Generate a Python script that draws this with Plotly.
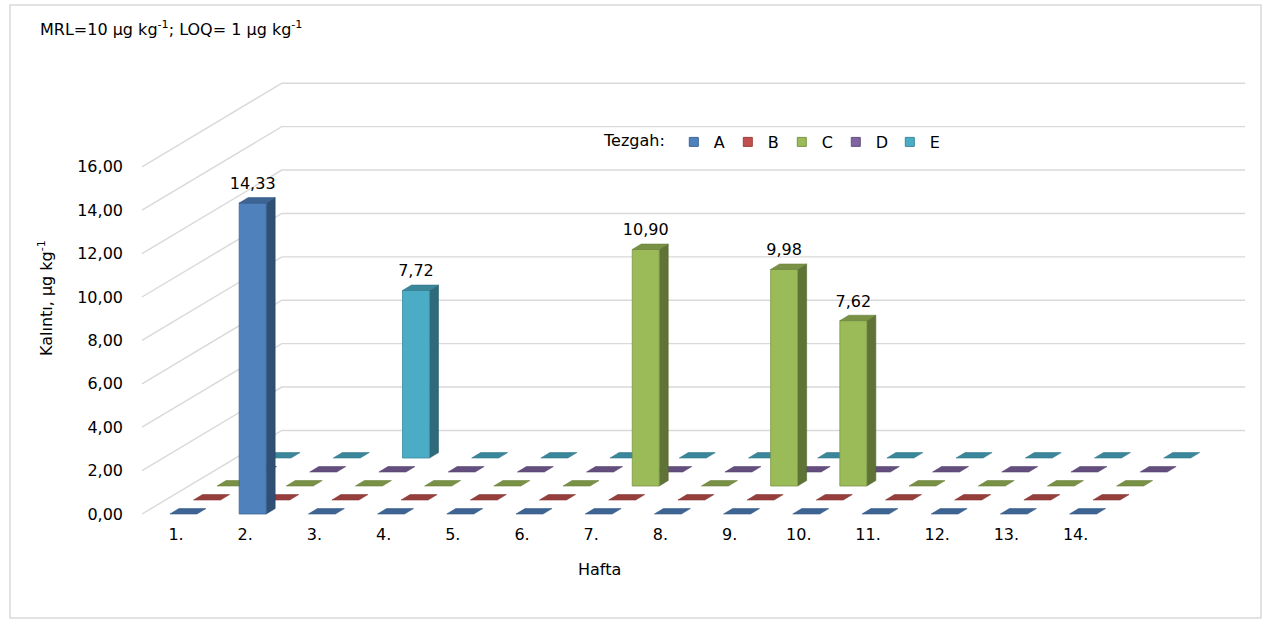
import plotly.graph_objects as go

# ---- data -------------------------------------------------------------
weeks = list(range(1, 15))
week_labels = [f"{w}." for w in weeks]
stalls = ["A", "B", "C", "D", "E"]

residue_A = [0, 14.33, 0, 0, 0, 0, 0, 0, 0, 0, 0, 0, 0, 0]
residue_B = [0, 0, 0, 0, 0, 0, 0, 0, 0, 0, 0, 0, 0, 0]
residue_C = [0, 0, 0, 0, 0, 0, 10.90, 0, 9.98, 7.62, 0, 0, 0, 0]
residue_D = [0, 0, 0, 0, 0, 0, 0, 0, 0, 0, 0, 0, 0, 0]
residue_E = [0, 0, 7.72, 0, 0, 0, 0, 0, 0, 0, 0, 0, 0, 0]
series = [residue_A, residue_B, residue_C, residue_D, residue_E]

y_ticks = [0, 2, 4, 6, 8, 10, 12, 14, 16]

colors = ["#4F81BD", "#C0504D", "#9BBB59", "#8064A2", "#4BACC6"]

# ---- oblique projection settings (axis units) --------------------------
FACE_OFF = -0.087    # bar front face left edge relative to week position
FACE_W = 0.39        # bar front face width
BAR_DX, BAR_DY = 0.13, 0.25      # depth of each bar
ROW_DX, ROW_DY = 0.34, 0.645     # shift between stall rows
WALL_X0 = 0.509                  # front-left corner of the floor
WALL_DX, WALL_DY = 2.02, 3.85    # depth of the whole floor
WALL_X1 = 16.45                  # right end of back wall

W, H = 1266, 623
L, R, T, B = 124, 1250, 60, 523
PX_X, PX_Y = 69.2, 21.7
X0_PX, Y0_PX = 176, 514
x_range = [1 + (L - X0_PX) / PX_X, 1 + (R - X0_PX) / PX_X]
y_range = [(Y0_PX - B) / PX_Y, (Y0_PX - T) / PX_Y]


def shade(hex_color, f):
    h = hex_color.lstrip("#")
    r, g, b = (int(h[i:i + 2], 16) for i in (0, 2, 4))
    return "#{:02X}{:02X}{:02X}".format(int(r * f), int(g * f), int(b * f))


def px_to_paper(px, py):
    return (px - L) / (R - L), 1 - (py - T) / (B - T)


fig = go.Figure()

# ---- walls: side wall and back wall gridlines ---------------------------
gx, gy = [], []
for t in y_ticks:
    gx += [WALL_X0, WALL_X0 + WALL_DX, WALL_X1, None]
    gy += [t, t + WALL_DY, t + WALL_DY, None]
fig.add_trace(go.Scatter(x=gx, y=gy, mode="lines",
                         line=dict(color="#D9D9D9", width=1.4),
                         hoverinfo="skip", showlegend=False))

# ---- bars, back row first ------------------------------------------------
label_x, label_y, label_t = [], [], []
for k in reversed(range(len(stalls))):
    vals = series[k]
    col = colors[k]
    tops_x, tops_y, sides_x, sides_y, fronts_x, fronts_y = [], [], [], [], [], []
    for w, v in zip(weeks, vals):
        x0 = w + FACE_OFF + k * ROW_DX
        y0 = k * ROW_DY
        x1 = x0 + FACE_W
        yt = y0 + v
        tops_x += [x0, x1, x1 + BAR_DX, x0 + BAR_DX, x0, None]
        tops_y += [yt, yt, yt + BAR_DY, yt + BAR_DY, yt, None]
        if v > 0:
            sides_x += [x1, x1 + BAR_DX, x1 + BAR_DX, x1, x1, None]
            sides_y += [y0, y0 + BAR_DY, yt + BAR_DY, yt, y0, None]
            fronts_x += [x0, x1, x1, x0, x0, None]
            fronts_y += [y0, y0, yt, yt, y0, None]
            label_x.append((x0 + x1) / 2)
            label_y.append(yt + 0.83)
            label_t.append(f"{v:.2f}".replace(".", ","))
    if sides_x:
        fig.add_trace(go.Scatter(x=sides_x, y=sides_y, mode="lines", fill="toself",
                                 fillcolor=shade(col, 0.62),
                                 line=dict(color=shade(col, 0.55), width=0.6),
                                 hoverinfo="skip", showlegend=False))
        fig.add_trace(go.Scatter(x=fronts_x, y=fronts_y, mode="lines", fill="toself",
                                 fillcolor=col,
                                 line=dict(color=shade(col, 0.8), width=0.8),
                                 hoverinfo="skip", showlegend=False))
    fig.add_trace(go.Scatter(x=tops_x, y=tops_y, mode="lines", fill="toself",
                             fillcolor=shade(col, 0.78),
                             line=dict(color=shade(col, 0.7), width=0.6),
                             hoverinfo="skip", showlegend=False))

# value labels
fig.add_trace(go.Scatter(x=label_x, y=label_y, mode="text", text=label_t,
                         textposition="middle center",
                         textfont=dict(family="DejaVu Sans", size=16, color="#000000"),
                         hoverinfo="skip", showlegend=False))

# legend entries
for name, col in zip(stalls, colors):
    fig.add_trace(go.Scatter(x=[None], y=[None], mode="markers", name=name,
                             marker=dict(symbol="square", size=9, color=col,
                                         line=dict(color=shade(col, 0.8), width=1))))

lx, ly = px_to_paper(602, 125)
bx0, by0 = px_to_paper(10, 618)
bx1, by1 = px_to_paper(1261, 5)
tx, ty = px_to_paper(38, 28)
yx, yy = px_to_paper(45, 298)
hx, hy = px_to_paper(599, 569)

fig.update_layout(
    width=W, height=H,
    margin=dict(l=L, r=W - R, t=T, b=H - B),
    paper_bgcolor="white", plot_bgcolor="white",
    separators=", ",
    font=dict(family="DejaVu Sans", size=16, color="#000000"),
    xaxis=dict(range=x_range, tickvals=weeks, ticktext=week_labels,
               showgrid=False, zeroline=False, showline=False, ticks="",
               tickfont=dict(size=16), fixedrange=True),
    yaxis=dict(range=y_range, tickvals=y_ticks, tickformat=".2f",
               showgrid=False, zeroline=False, showline=False, ticks="",
               tickfont=dict(size=16), fixedrange=True),
    legend=dict(orientation="h", x=lx, y=ly, xanchor="left", yanchor="top",
                title=dict(text="Tezgah:", font=dict(size=16)),
                font=dict(size=16), itemwidth=30, entrywidth=9,
                bgcolor="rgba(0,0,0,0)", traceorder="normal"),
    shapes=[dict(type="rect", xref="paper", yref="paper",
                 x0=bx0, y0=by0, x1=bx1, y1=by1,
                 line=dict(color="#D9D9D9", width=1.5), layer="below")],
    annotations=[
        dict(text="MRL=10 µg kg<sup>-1</sup>; LOQ= 1 µg kg<sup>-1</sup>",
             xref="paper", yref="paper", x=tx, y=ty, xanchor="left", yanchor="middle",
             showarrow=False, font=dict(size=16)),
        dict(text="Kalıntı, µg kg<sup>-1</sup>", textangle=-90,
             xref="paper", yref="paper", x=yx, y=yy, xanchor="center", yanchor="middle",
             showarrow=False, font=dict(size=16)),
        dict(text="Hafta", xref="paper", yref="paper", x=hx, y=hy,
             xanchor="center", yanchor="middle", showarrow=False, font=dict(size=16)),
    ],
)

fig.write_html("out.html", config={"displayModeBar": False})
